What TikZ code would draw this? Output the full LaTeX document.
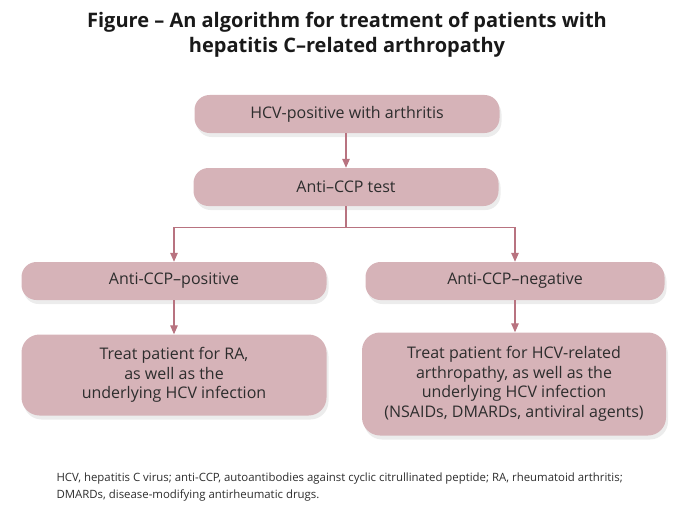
\documentclass[tikz,border=0pt]{standalone}
\usepackage{fontspec}
\setmainfont{Open Sans}
\usetikzlibrary{positioning, arrows.meta, shadows}

\definecolor{boxpink}{RGB}{214,179,184}
\definecolor{linkpink}{RGB}{184,115,128}
\definecolor{txtgray}{RGB}{45,45,45}

\begin{document}
\begin{tikzpicture}[
    x=1pt, y=1pt,
    box/.style={rectangle, fill=boxpink, rounded corners=15pt, minimum width=305pt, minimum height=38pt,
        text=txtgray, font=\fontsize{16}{19.5}\selectfont,
        drop shadow={shadow xshift=2pt, shadow yshift=-4pt, opacity=0.15, fill=gray}},
    bigbox/.style={box, rounded corners=18pt, align=center},
    arrow/.style={-{Triangle[length=9pt, width=7.5pt]}, linkpink, line width=1.3pt},
    label/.style={font=\fontsize{11.4}{17}\selectfont, text=txtgray, align=left}
]
\useasboundingbox (0,0) rectangle (700,-516);

% Title
\node[font=\bfseries\fontsize{20}{25}\selectfont, align=center, text=black!90] (title) at (347,-35)
    {Figure -- An algorithm for treatment of patients with\\hepatitis C--related arthropathy};

% Boxes
\node[box] (hcv) at (347,-114) {HCV-positive with arthritis};
\node[box] (test) at (346,-187) {Anti--CCP test};
\node[box] (pos) at (174,-281) {Anti-CCP--positive};
\node[box, minimum width=299pt] (neg) at (515,-281) {Anti-CCP--negative};
\node[bigbox, minimum height=81pt] (treatra) at (174,-375)
    {Treat patient for RA,\\as well as the\\underlying HCV infection};
\node[bigbox, minimum width=304pt, minimum height=103pt] (treathcv) at (514,-384)
    {Treat patient for HCV-related\\arthropathy, as well as the\\underlying HCV infection\\(NSAIDs, DMARDs, antiviral agents)};

% Connectors
\coordinate (split) at ([yshift=-21pt]test.south);
\draw[arrow] (hcv.south -| test) -- (test.north);
\draw[linkpink, line width=1.3pt] (test.south) -- (split);
\draw[arrow] (split) -| (pos.north);
\draw[arrow] (split) -| (neg.north);
\draw[arrow] (pos.south) -- (treatra.north);
\draw[arrow] (neg.south) -- (neg.south |- treathcv.north);

% Footnote
\node[label, anchor=north west] (note) at (53,-469)
    {HCV, hepatitis C virus; anti-CCP, autoantibodies against cyclic citrullinated peptide; RA, rheumatoid arthritis;\\DMARDs, disease-modifying antirheumatic drugs.};

\end{tikzpicture}
\end{document}
